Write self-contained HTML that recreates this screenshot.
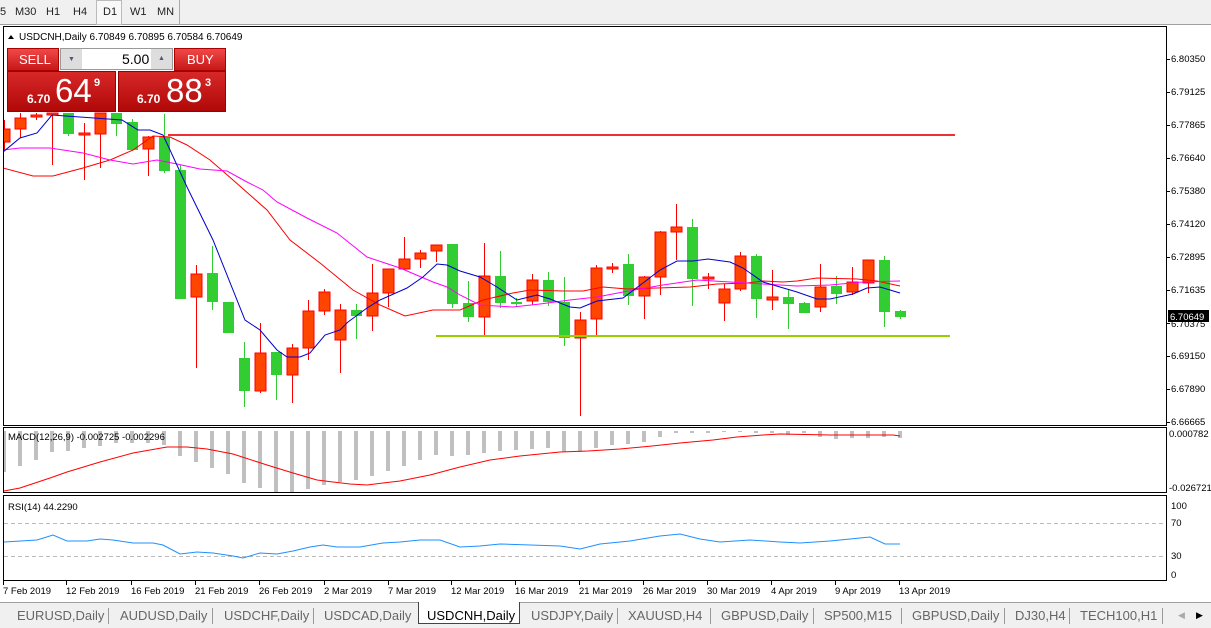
<!DOCTYPE html>
<html><head><meta charset="utf-8">
<style>
*{margin:0;padding:0;box-sizing:border-box}
body{width:1211px;height:628px;overflow:hidden;background:#fff;font-family:"Liberation Sans",sans-serif;position:relative}
.tb{position:absolute;left:0;top:0;width:1211px;height:25px;background:#f0f0f0;border-bottom:1px solid #a0a0a0}
.tb span{position:absolute;top:6px;font-size:11px;color:#222}
.bt{position:absolute;left:0;top:602px;width:1211px;height:26px;background:#f0f0f0;border-top:1px solid #a0a0a0}
.bt span{position:absolute;top:5px;font-size:13px;color:#666;white-space:nowrap}
.sep{position:absolute;top:5px;width:1px;height:16px;background:#999}
svg text{font-family:"Liberation Sans",sans-serif}
.tp{position:absolute;color:#fff;font-family:"Liberation Sans",sans-serif}
</style></head><body>
<div class="tb">
<span style="left:0">5</span><span style="left:15px">M30</span><span style="left:46px">H1</span><span style="left:73px">H4</span>
<div style="position:absolute;left:96px;top:0;width:26px;height:25px;border:1px solid #bbb;background:#f8f8f8"></div>
<span style="left:103px">D1</span><span style="left:130px">W1</span><span style="left:157px">MN</span>
<div style="position:absolute;left:179px;top:0;width:1px;height:25px;background:#aaa"></div>
</div>
<svg width="1211" height="602" style="position:absolute;left:0;top:0" id="s">
<defs><clipPath id="cp"><rect x="4" y="27" width="1162" height="552"/></clipPath></defs>
<rect x="0" y="25" width="1211" height="577" fill="#fff"/>
<rect x="3.5" y="26.5" width="1163" height="399" fill="none" stroke="#000"/>
<rect x="3.5" y="427.5" width="1163" height="65" fill="none" stroke="#000"/>
<rect x="3.5" y="495.5" width="1163" height="85" fill="none" stroke="#000"/>
<line x1="4" y1="523.5" x2="1166" y2="523.5" stroke="#bbb" stroke-dasharray="4,3"/>
<line x1="4" y1="556.5" x2="1166" y2="556.5" stroke="#bbb" stroke-dasharray="4,3"/>
<g id="g" clip-path="url(#cp)"></g>
<g id="t"></g>
<line x1="168" y1="135" x2="955" y2="135" stroke="#f03030" stroke-width="2"/>
<line x1="436" y1="336" x2="950" y2="336" stroke="#9acd00" stroke-width="2"/>
<g font-size="9.5" fill="#000">
<text x="1171" y="62">6.80350</text><text x="1171" y="95">6.79125</text><text x="1171" y="128">6.77865</text>
<text x="1171" y="161">6.76640</text><text x="1171" y="194">6.75380</text><text x="1171" y="227">6.74120</text>
<text x="1171" y="260">6.72895</text><text x="1171" y="293">6.71635</text><text x="1171" y="327">6.70375</text>
<text x="1171" y="359">6.69150</text><text x="1171" y="392">6.67890</text><text x="1171" y="425">6.66665</text>
<text x="1169" y="437">0.000782</text><text x="1169" y="491">-0.026721</text>
<text x="1171" y="509">100</text><text x="1171" y="526">70</text><text x="1171" y="559">30</text><text x="1171" y="578">0</text>
<text x="8" y="440">MACD(12,26,9) -0.002725 -0.002296</text>
<text x="8" y="510">RSI(14) 44.2290</text>
<text x="19" y="40" font-size="10">USDCNH,Daily  6.70849 6.70895 6.70584 6.70649</text>
</g>
<polygon points="8,39 14,39 11,35" fill="#000"/>
<rect x="1168" y="310" width="41" height="12" fill="#000"/>
<text x="1170" y="320" font-size="9.5" fill="#fff">6.70649</text>
<g font-size="9.5" fill="#000">
<text x="3" y="594">7 Feb 2019</text><text x="66" y="594">12 Feb 2019</text><text x="131" y="594">16 Feb 2019</text>
<text x="195" y="594">21 Feb 2019</text><text x="259" y="594">26 Feb 2019</text><text x="324" y="594">2 Mar 2019</text>
<text x="388" y="594">7 Mar 2019</text><text x="451" y="594">12 Mar 2019</text><text x="515" y="594">16 Mar 2019</text>
<text x="579" y="594">21 Mar 2019</text><text x="643" y="594">26 Mar 2019</text><text x="707" y="594">30 Mar 2019</text>
<text x="771" y="594">4 Apr 2019</text><text x="835" y="594">9 Apr 2019</text><text x="899" y="594">13 Apr 2019</text>
</g>
</svg>
<div style="position:absolute;left:7px;top:48px;width:52px;height:23px;background:linear-gradient(#f04848,#c81818);border:1px solid #a00"></div>
<div class="tp" style="left:19px;top:52px;font-size:13px">SELL</div>
<div style="position:absolute;left:60px;top:48px;width:113px;height:22px;background:#fff;border:1px solid #999"></div>
<div style="position:absolute;left:61px;top:49px;width:21px;height:20px;background:#ddd"></div>
<div style="position:absolute;left:151px;top:49px;width:21px;height:20px;background:#ddd"></div>
<div style="position:absolute;left:68px;top:56px;font-size:7px;color:#557">▼</div>
<div style="position:absolute;left:158px;top:55px;font-size:7px;color:#557">▲</div>
<div style="position:absolute;left:122px;top:51px;font-size:14px;color:#000">5.00</div>
<div style="position:absolute;left:174px;top:48px;width:52px;height:23px;background:linear-gradient(#f04848,#c81818);border:1px solid #a00"></div>
<div class="tp" style="left:187px;top:52px;font-size:13px">BUY</div>
<div style="position:absolute;left:7px;top:71px;width:109px;height:41px;background:linear-gradient(#d82828,#b00808);border:1px solid #900"></div>
<div style="position:absolute;left:118px;top:71px;width:108px;height:41px;background:linear-gradient(#d82828,#b00808);border:1px solid #900"></div>
<div class="tp" style="left:27px;top:92px;font-size:12px;font-weight:bold">6.70</div>
<div class="tp" style="left:55px;top:72px;font-size:33px">64</div>
<div class="tp" style="left:94px;top:77px;font-size:11px;font-weight:bold">9</div>
<div class="tp" style="left:137px;top:92px;font-size:12px;font-weight:bold">6.70</div>
<div class="tp" style="left:166px;top:72px;font-size:33px">88</div>
<div class="tp" style="left:205px;top:77px;font-size:11px;font-weight:bold">3</div>
<div class="bt">
<span style="left:17px">EURUSD,Daily</span><div class="sep" style="left:108px"></div>
<span style="left:120px">AUDUSD,Daily</span><div class="sep" style="left:212px"></div>
<span style="left:224px">USDCHF,Daily</span><div class="sep" style="left:313px"></div>
<span style="left:324px">USDCAD,Daily</span>
<div style="position:absolute;left:418px;top:-1px;width:102px;height:22px;background:#fff;border:1px solid #444;border-top:none"></div>
<span style="left:427px;color:#000">USDCNH,Daily</span>
<span style="left:531px">USDJPY,Daily</span><div class="sep" style="left:617px"></div>
<span style="left:628px">XAUUSD,H4</span><div class="sep" style="left:710px"></div>
<span style="left:721px">GBPUSD,Daily</span><div class="sep" style="left:813px"></div>
<span style="left:824px">SP500,M15</span><div class="sep" style="left:901px"></div>
<span style="left:912px">GBPUSD,Daily</span><div class="sep" style="left:1004px"></div>
<span style="left:1015px">DJ30,H4</span><div class="sep" style="left:1069px"></div>
<span style="left:1080px">TECH100,H1</span><div class="sep" style="left:1162px"></div>
<span style="left:1178px;font-size:9px;top:7px;color:#aaa">◀</span><span style="left:1196px;font-size:9px;top:7px;color:#000">▶</span>
</div>
<script>
var g=document.getElementById('g'),tg=document.getElementById('t'),ns='http://www.w3.org/2000/svg';
function el(t,a,p){var e=document.createElementNS(ns,t);for(var k in a)e.setAttribute(k,a[k]);(p||g).appendChild(e);return e}
[3,66,131,195,259,324,388,451,515,579,643,707,771,835,899].forEach(function(x){el('line',{x1:x+.5,y1:580,x2:x+.5,y2:585,stroke:'#000'},tg)});
[59,92,125,158,191,224,257,290,323,356,389,422].forEach(function(y){el('line',{x1:1166,y1:y+.5,x2:1170,y2:y+.5,stroke:'#000'},tg)});
var mb=[472,466,460,452,451,448,446,443,443,443,445,456,462,468,474,483,488,492,492,489,485,482,480,476,471,466,460,455,456,455,453,451,450,449,448,452,452,448,445,444,442,437,433,433,433,432,432,433,433,435,433,437,439,438,438,437,438];
mb.forEach(function(b,k){var x=4+16*k;el('rect',{x:x-2,y:431,width:4,height:b-431,fill:'#c0c0c0'})});
function pl(pts,c,w){el('polyline',{points:pts.map(function(p){return p.join(',')}).join(' '),fill:'none',stroke:c,'stroke-width':w||1})}
pl([[4,491],[20,488],[50,478],[67,472],[100,462],[133,453],[167,447],[187,447],[207,449],[233,454],[267,465],[293,473],[317,480],[333,482],[350,484],[367,485],[383,483],[400,481],[430,475],[460,467],[490,460],[520,456],[560,452],[588,451],[620,449],[652,446],[680,443],[713,440],[737,437],[763,435],[780,434],[830,435],[893,435],[900,436]],'#f00');
pl([[4,542],[37,540],[53,535],[67,541],[87,541],[100,539],[113,540],[133,543],[153,543],[163,545],[180,554],[197,552],[213,553],[233,556],[243,558],[260,553],[277,554],[293,551],[310,547],[323,545],[337,547],[360,547],[383,543],[400,542],[420,540],[440,540],[460,547],[480,546],[500,544],[530,545],[560,546],[580,549],[600,544],[630,541],[660,536],[680,534],[700,539],[720,542],[750,540],[780,542],[800,543],[830,541],[860,538],[870,537],[885,544],[900,544]],'#1e90ff');
var C=[[0,129,142,120,150,'r'],[1,118,129,113,138,'r'],[2,115,117,113,120,'r'],[3,113,115,113,165,'r'],[4,113,134,113,136,'g'],[5,133,135,123,180,'r'],[6,113,134,113,168,'r'],[7,113,124,113,136,'g'],[8,122,150,119,151,'g'],[9,137,149,136,176,'r'],[10,137,171,114,173,'g'],[11,170,299,165,299,'g'],[12,274,297,265,368,'r'],[13,273,302,246,310,'g'],[14,302,333,302,333,'g'],[15,358,391,342,407,'g'],[16,353,391,323,393,'r'],[17,352,375,352,400,'g'],[18,348,375,344,403,'r'],[19,311,348,300,360,'r'],[20,292,311,289,315,'r'],[21,310,340,304,373,'r'],[22,310,316,304,339,'g'],[23,293,316,264,331,'r'],[24,269,293,269,307,'r'],[25,259,269,237,269,'r'],[26,253,259,250,268,'r'],[27,245,251,245,262,'r'],[28,244,304,244,308,'g'],[29,303,317,281,322,'g'],[30,276,317,243,336,'r'],[31,276,303,251,308,'g'],[32,302,304,298,307,'g'],[33,280,301,274,305,'r'],[34,280,302,272,306,'g'],[35,302,338,277,346,'g'],[36,320,338,312,416,'r'],[37,268,319,265,336,'r'],[38,267,269,263,273,'r'],[39,264,296,254,305,'g'],[40,277,296,276,319,'r'],[41,232,277,231,295,'r'],[42,227,232,204,260,'r'],[43,227,279,219,306,'g'],[44,277,279,273,289,'r'],[45,289,303,284,321,'r'],[46,256,289,252,291,'r'],[47,256,299,254,318,'g'],[48,297,300,270,310,'r'],[49,297,304,290,329,'g'],[50,303,313,302,313,'g'],[51,287,307,264,312,'r'],[52,286,294,276,304,'g'],[53,282,292,267,295,'r'],[54,260,283,260,293,'r'],[55,260,312,256,327,'g'],[56,311,317,310,319,'g']];
C.forEach(function(c){var x=4+16*c[0],col=c[5]=='r'?'#f00':'#32cd32',fill=c[5]=='r'?'#ff4500':'#32cd32';
el('line',{x1:x+.5,y1:c[3],x2:x+.5,y2:c[4],stroke:col});
var h=Math.max(c[2]-c[1],2);el('rect',{x:x-5,y:c[1],width:11,height:h,fill:fill,stroke:c[5]=='r'?'#f00':'none'});});
pl([[3,168],[33,176],[53,176],[83,168],[110,160],[133,150],[153,136],[170,137],[187,145],[210,160],[233,180],[267,210],[290,240],[320,263],[353,290],[380,305],[405,316],[433,310],[460,310],[483,300],[513,293],[530,290],[563,291],[583,291],[603,287],[627,289],[657,288],[690,287],[717,284],[747,283],[763,281],[783,282],[797,281],[817,278],[857,279],[877,281],[900,286]],'#f00');
pl([[3,150],[20,148],[50,148],[83,153],[110,160],[133,164],[157,160],[177,164],[200,169],[227,171],[247,182],[263,190],[277,202],[307,218],[337,233],[367,257],[400,268],[433,282],[447,287],[460,295],[480,305],[513,307],[540,304],[570,300],[597,297],[623,292],[663,285],[697,280],[730,282],[763,284],[797,286],[830,285],[863,282],[900,281]],'#ff00ff');
pl([[3,152],[20,138],[37,133],[52,115],[122,120],[138,130],[150,130],[163,135],[170,150],[187,187],[213,240],[245,320],[260,330],[277,350],[287,357],[300,357],[310,353],[325,335],[340,330],[348,322],[367,308],[380,300],[407,288],[423,277],[437,264],[447,265],[460,271],[480,277],[497,287],[517,300],[537,295],[550,299],[570,307],[580,308],[597,301],[623,298],[643,283],[660,270],[677,261],[693,261],[708,259],[730,262],[743,268],[763,282],[797,292],[817,299],[830,299],[853,294],[867,288],[880,287],[900,293]],'#0000cd');
</script>
</body></html>
